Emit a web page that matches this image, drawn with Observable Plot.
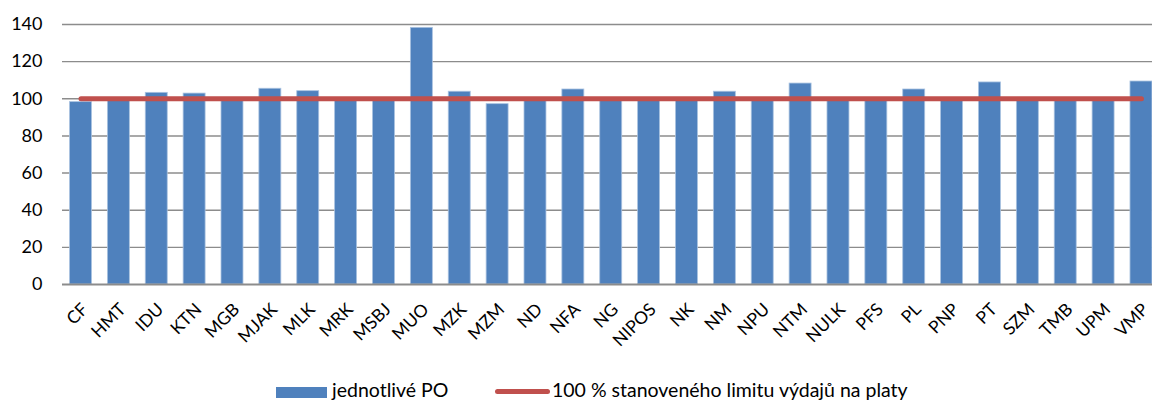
<!DOCTYPE html>
<html>
<head>
<meta charset="utf-8">
<script src="https://cdn.jsdelivr.net/npm/d3@7"></script>
<script src="https://cdn.jsdelivr.net/npm/@observablehq/plot@0.6"></script>
<style>
  html, body { margin: 0; padding: 0; background: white; }
  #wrap { width: 1152px; font-family: Lato, "Open Sans", sans-serif; }
  #legend { position: relative; width: 1152px; height: 29px; font-size: 19.5px; color: #000; }
  #legend .sw { position: absolute; }
  #legend .lab { position: absolute; line-height: 24px; white-space: nowrap; }
</style>
</head>
<body>
<div id="wrap"></div>
<script>
const categories = ["CF","HMT","IDU","KTN","MGB","MJAK","MLK","MRK","MSBJ","MUO","MZK","MZM","ND","NFA","NG","NIPOS","NK","NM","NPU","NTM","NULK","PFS","PL","PNP","PT","SZM","TMB","UPM","VMP"];
const values = [98.2,100,103.2,102.8,100,105.4,104.1,100,100,138.2,103.8,97.1,100,105,100,100,100,103.8,100,108.2,100,100,105,100,108.8,100,100,100,109.3];
const limitValue = 100;
const yTicks = [0,20,40,60,80,100,120,140];
const seriesBars = "jednotlivé PO";
const seriesLine = "100 % stanoveného limitu výdajů na platy";

const data = categories.map((c, i) => ({name: c, value: values[i], limit: limitValue}));

const chart = Plot.plot({
  width: 1152,
  height: 372,
  marginLeft: 62,
  marginRight: 0,
  marginTop: 24,
  marginBottom: 88,
  style: {fontFamily: "Lato, 'Open Sans', sans-serif", fontSize: "18px", color: "#000", background: "white"},
  x: {type: "band", domain: categories, range: [61.56, 1159.9], paddingInner: 0.42, paddingOuter: 0.21, round: false, label: null},
  y: {domain: [0, 140], label: null},
  marks: [
    Plot.ruleY(yTicks.filter(d => d > 0), {stroke: "#8c8c8c", strokeWidth: 1.4}),
    Plot.barY(data, {x: "name", y: "value", fill: "#4f81bd", stroke: "#a9c2e0", strokeWidth: 0.8}),
    Plot.ruleY([0], {stroke: "#8c8c8c", strokeWidth: 2}),
    Plot.lineY(data, {x: "name", y: "limit", stroke: "#c0504d", strokeWidth: 5, strokeLinecap: "round"}),
    Plot.axisY({ticks: yTicks, tickSize: 0, tickPadding: 20, fontSize: 18}),
    Plot.axisX({tickSize: 0, tickPadding: 22, tickRotate: -45, fontSize: 17.5, dx: 4})
  ]
});

const wrap = document.getElementById("wrap");
wrap.appendChild(chart);

const legend = document.createElement("div");
legend.id = "legend";
legend.innerHTML = `
  <div class="sw" style="left:276px; top:15px; width:51px; height:11px; background:#4f81bd;"></div>
  <div class="lab" style="left:332px; top:6px;">${seriesBars}</div>
  <div class="sw" style="left:495px; top:17px; width:55px; height:5px; border-radius:2.5px; background:#c0504d;"></div>
  <div class="lab" style="left:552px; top:6px;">${seriesLine}</div>
`;
wrap.appendChild(legend);
</script>
</body>
</html>
